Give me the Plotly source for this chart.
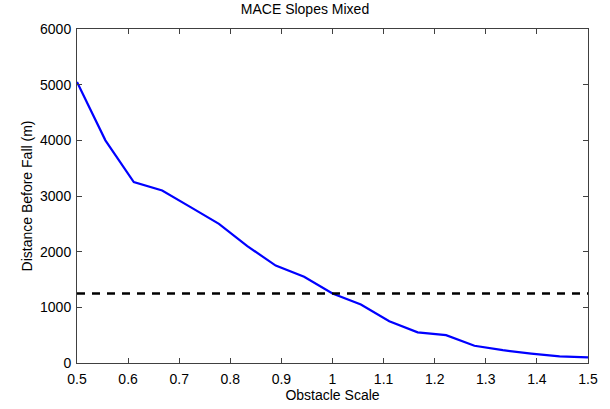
import plotly.graph_objects as go

x_scale = [0.5 + i / 18 for i in range(19)]
distance = [5050, 4000, 3250, 3100, 2800, 2500, 2100, 1750, 1550, 1250,
            1050, 750, 550, 500, 310, 230, 170, 120, 100]
threshold = 1250
x_ticks = [0.5, 0.6, 0.7, 0.8, 0.9, 1.0, 1.1, 1.2, 1.3, 1.4, 1.5]
x_tick_labels = ["0.5", "0.6", "0.7", "0.8", "0.9", "1", "1.1", "1.2", "1.3", "1.4", "1.5"]
y_ticks = [0, 1000, 2000, 3000, 4000, 5000, 6000]

fig = go.Figure()
fig.add_trace(go.Scatter(x=x_scale, y=distance, mode="lines",
                         line=dict(color="#0000ff", width=2.2), showlegend=False))
fig.add_trace(go.Scatter(x=[0.5, 1.5], y=[threshold, threshold], mode="lines",
                         line=dict(color="black", width=2.5, dash="8px,7px"), showlegend=False))

axis_common = dict(showline=True, linecolor="#404040", linewidth=1, mirror="ticks",
                   ticks="inside", ticklen=5, tickcolor="#404040", showgrid=False,
                   zeroline=False, tickfont=dict(family="Liberation Sans", size=14, color="black"))
fig.update_xaxes(range=[0.5, 1.5], tickvals=x_ticks, ticktext=x_tick_labels, ticklabelstandoff=3,
                 title=dict(text="Obstacle Scale", font=dict(family="Liberation Sans", size=14, color="black"), standoff=0),
                 **axis_common)
fig.update_yaxes(range=[0, 6000], tickvals=y_ticks, ticklabelstandoff=2,
                 title=dict(text="Distance Before Fall (m)", font=dict(family="Liberation Sans", size=14, color="black"), standoff=4),
                 **axis_common)
fig.update_layout(width=610, height=409, margin=dict(l=77, r=20, t=29, b=45),
                  plot_bgcolor="white", paper_bgcolor="white",
                  title=dict(text="MACE Slopes Mixed", x=0.5, xanchor="center", y=0.99, yanchor="top",
                             font=dict(family="Liberation Sans", size=14, color="black")))
fig.write_html("out.html")
